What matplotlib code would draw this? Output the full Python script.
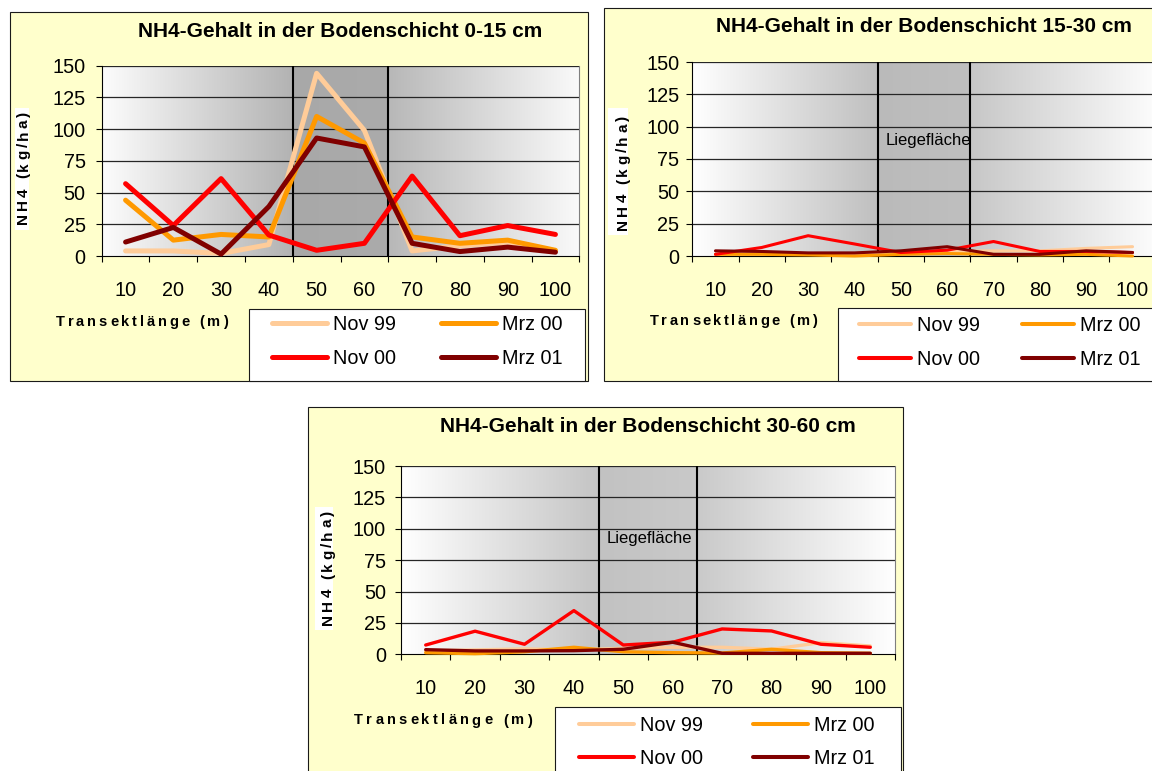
import numpy as np
import matplotlib
matplotlib.use("Agg")
import matplotlib.pyplot as plt
from matplotlib.patches import Rectangle
from matplotlib.font_manager import FontProperties, findfont
from matplotlib.ft2font import FT2Font

W, H, DPI = 1152, 771, 100
FONT = "Liberation Sans"
plt.rcParams["font.family"] = [FONT, "DejaVu Sans"]

# ---------------------------------------------------------------- data
categories = [10, 20, 30, 40, 50, 60, 70, 80, 90, 100]
y_ticks = [0, 25, 50, 75, 100, 125, 150]
series_labels = ["Nov 99", "Mrz 00", "Nov 00", "Mrz 01"]
series_colors = ["#FFCC99", "#FF9900", "#FF0000", "#800000"]

# NH4 (kg/ha), soil layer 0-15 cm
nov99_0_15 = [4, 4, 2, 9, 144, 99, 4, 8, 11, 4]
mrz00_0_15 = [44, 12.5, 17, 15, 110, 89, 15, 10, 12.5, 4.5]
nov00_0_15 = [57, 24, 61, 16.5, 4.5, 10, 63, 16, 24, 17]
mrz01_0_15 = [11, 22.5, 1.5, 39, 93, 86, 10, 3.5, 7, 3]

# NH4 (kg/ha), soil layer 15-30 cm
nov99_15_30 = [1.3, 1.9, 1.9, 1.3, 2.7, 3.5, 4, 4, 5.9, 7.2]
mrz00_15_30 = [1.3, 1.3, 0.8, 0, 1.3, 1.9, 1.3, 0.8, 1.3, 0]
nov00_15_30 = [1.3, 6.6, 15.7, 9.3, 2.7, 4.5, 11.2, 3.5, 3.5, 2.7]
mrz01_15_30 = [4, 3.5, 2.4, 2.4, 4, 7.2, 1.3, 1.3, 4, 2.7]

# NH4 (kg/ha), soil layer 30-60 cm
nov99_30_60 = [2.7, 3.5, 4.3, 3.5, 4.8, 5.6, 5.6, 4, 9.3, 6.6]
mrz00_30_60 = [1.3, 0.5, 2, 5.6, 2, 1.3, 1, 4, 1.3, 0.8]
nov00_30_60 = [7.4, 18.4, 8, 34.8, 7.4, 9.6, 20.2, 18.6, 8, 5.6]
mrz01_30_60 = [3.7, 2.7, 2.7, 2.9, 4, 9.6, 0.8, 0.8, 0.8, 0.8]

titles = ["NH4-Gehalt in der Bodenschicht 0-15 cm",
          "NH4-Gehalt in der Bodenschicht 15-30 cm",
          "NH4-Gehalt in der Bodenschicht 30-60 cm"]
x_label = "Transektlänge (m)"
y_label = "NH4 (kg/ha)"
zone_label = "Liegefläche"
zone_start, zone_end = 4.5, 6.5   # category boundaries of the lying area

# ---------------------------------------------------------------- layout (pixels, top-left origin)
charts = [
    dict(title=titles[0], data=[nov99_0_15, mrz00_0_15, nov00_0_15, mrz01_0_15],
         frame=(9.5, 11.7, 588, 380.5), plot=(101.7, 65.7, 579.3, 256),
         title_xy=(340, 31.5), ybox=(15, 108, 29, 230), ytext=(27.5, 224, 112),
         xtext=(55.7, 326, 172), legend_box=(249, 309, 585, 380.5),
         legend_c=(417.5, 341.7), hlen=55, colsp=45,
         lw=3.6, leg_lw=3.6, ypad=7.2, zone=None,
         shade=(0.99, 0.70, 0.66, 0.67, 0.72, 0.98)),
    dict(title=titles[1], data=[nov99_15_30, mrz00_15_30, nov00_15_30, mrz01_15_30],
         frame=(603.5, 8.3, 1170, 380.5), plot=(692.3, 62, 1155.7, 256),
         title_xy=(924, 27), ybox=(607.7, 108, 628, 235), ytext=(627, 230, 114),
         xtext=(650, 324.5, 167), legend_box=(838, 308, 1170, 380.5),
         legend_c=(1000, 342.5), hlen=52, colsp=42,
         lw=2.2, leg_lw=2.9, ypad=5, zone=(886, 140),
         shade=(1.0, 0.75, 0.73, 0.75, 0.78, 0.99)),
    dict(title=titles[2], data=[nov99_30_60, mrz00_30_60, nov00_30_60, mrz01_30_60],
         frame=(307.5, 407, 902.7, 790), plot=(401, 466, 895, 654.3),
         title_xy=(648, 426), ybox=(314.8, 506.7, 333, 630), ytext=(332, 625, 114),
         xtext=(354, 724.5, 178), legend_box=(555, 707, 901, 790),
         legend_c=(727, 742), hlen=55, colsp=50,
         lw=2.4, leg_lw=2.9, ypad=6.5, zone=(607, 538),
         shade=(1.0, 0.77, 0.76, 0.79, 0.79, 1.0)),
]


def fx(px):
    return px / W


def fy(py):
    return 1 - py / H


fig = plt.figure(figsize=(W / DPI, H / DPI), dpi=DPI, facecolor="white")


def fig_rect(x0, y0, x1, y1, **kw):
    r = Rectangle((fx(x0), fy(y1)), (x1 - x0) / W, (y1 - y0) / H,
                  transform=fig.transFigure, **kw)
    fig.add_artist(r)
    return r


def spaced_text(s, x0, y0, span, size, vertical=False):
    """Bold text with expanded character spacing, stretched over `span` px."""
    fp = FontProperties(family=FONT, weight="bold", size=size)
    font = FT2Font(findfont(fp))
    font.set_size(size, DPI)
    adv = [font.load_char(ord(c)).linearHoriAdvance / 65536 for c in s]
    extra = (span - sum(adv)) / (len(s) - 1)
    pos = 0.0
    for c, a in zip(s, adv):
        if vertical:
            fig.text(fx(x0), fy(y0 - pos), c, fontproperties=fp, rotation=90,
                     rotation_mode="anchor", ha="left", va="baseline")
        else:
            fig.text(fx(x0 + pos), fy(y0), c, fontproperties=fp,
                     ha="left", va="baseline")
        pos += a + extra


def draw_chart(cfg):
    fig_rect(*cfg["frame"], facecolor="#FFFFCC", edgecolor="#1a1a1a", lw=0.8, zorder=-2)
    fig_rect(*cfg["legend_box"], facecolor="white", edgecolor="#1a1a1a", lw=0.8, zorder=-1)
    fig_rect(*cfg["ybox"], facecolor="white", edgecolor="none", zorder=-1)

    x0, y0, x1, y1 = cfg["plot"]
    ax = fig.add_axes([fx(x0), fy(y1), (x1 - x0) / W, (y1 - y0) / H])
    n = len(categories)
    xs = np.arange(1, n + 1)

    # shaded plot background: fade to grey towards the lying area
    l0, l1, m0, m1, r0, r1 = cfg["shade"]
    gx = np.linspace(0.5, n + 0.5, 800)
    g = np.where(gx < zone_start, l0 + (l1 - l0) * (gx - 0.5) / (zone_start - 0.5),
        np.where(gx < zone_end, m0 + (m1 - m0) * (gx - zone_start) / (zone_end - zone_start),
                 r0 + (r1 - r0) * (gx - zone_end) / (n + 0.5 - zone_end)))
    img = np.repeat(g[None, :, None], 3, axis=2)
    ax.imshow(img, extent=(0.5, n + 0.5, 0, 150), aspect="auto",
              interpolation="bilinear", zorder=0)
    ax.set_xlim(0.5, n + 0.5)
    ax.set_ylim(0, 150)

    for v in y_ticks[1:]:
        ax.axhline(v, color="#262626", lw=0.9, zorder=1)
    for b in (zone_start, zone_end):
        ax.axvline(b, color="black", lw=1.5, zorder=2)

    lines = []
    for vals, col, lab in zip(cfg["data"], series_colors, series_labels):
        ln, = ax.plot(xs, vals, color=col, lw=cfg["lw"], label=lab,
                      solid_joinstyle="round", solid_capstyle="round",
                      zorder=3, clip_on=False)
        lines.append(ln)

    ax.set_xticks(np.arange(0.5, n + 1, 1))
    ax.set_xticklabels([])
    ax.set_xticks(xs, minor=True)
    ax.set_xticklabels([str(c) for c in categories], minor=True)
    ax.tick_params(axis="x", which="major", direction="out", length=4.3,
                   width=0.8, color="black")
    ax.tick_params(axis="x", which="minor", length=0, pad=18, labelsize=14.3)
    ax.set_yticks(y_ticks)
    ax.tick_params(axis="y", direction="out", length=4.3, width=0.8,
                   pad=cfg["ypad"], labelsize=14.3)
    ax.spines["top"].set_visible(False)
    ax.spines["right"].set_color("#7f7f7f")
    ax.spines["right"].set_linewidth(0.8)
    for s in ("left", "bottom"):
        ax.spines[s].set_color("black")
        ax.spines[s].set_linewidth(0.8)

    order = [0, 2, 1, 3]
    fs = 14.3
    fpx = fs * DPI / 72
    leg = ax.legend([lines[i] for i in order], [series_labels[i] for i in order],
                    ncol=2, loc="center",
                    bbox_to_anchor=(fx(cfg["legend_c"][0]), fy(cfg["legend_c"][1])),
                    bbox_transform=fig.transFigure, frameon=False, fontsize=fs,
                    handlelength=cfg["hlen"] / fpx, handletextpad=0.3,
                    columnspacing=cfg["colsp"] / fpx, labelspacing=0.75,
                    borderpad=0, borderaxespad=0)
    for hl in leg.get_lines():
        hl.set_linewidth(cfg["leg_lw"])

    fig.text(fx(cfg["title_xy"][0]), fy(cfg["title_xy"][1]), cfg["title"],
             ha="center", va="center", fontsize=15, fontweight="bold")

    if cfg["zone"] is not None:
        fig.text(fx(cfg["zone"][0]), fy(cfg["zone"][1]), zone_label,
                 ha="left", va="center", fontsize=12)

    tx, ty, tspan = cfg["xtext"]
    spaced_text(x_label, tx, ty, tspan, 10.5)
    yx, yy, yspan = cfg["ytext"]
    spaced_text(y_label, yx, yy, yspan, 11, vertical=True)


for c in charts:
    draw_chart(c)

fig.savefig("out.png", dpi=DPI, facecolor="white")
